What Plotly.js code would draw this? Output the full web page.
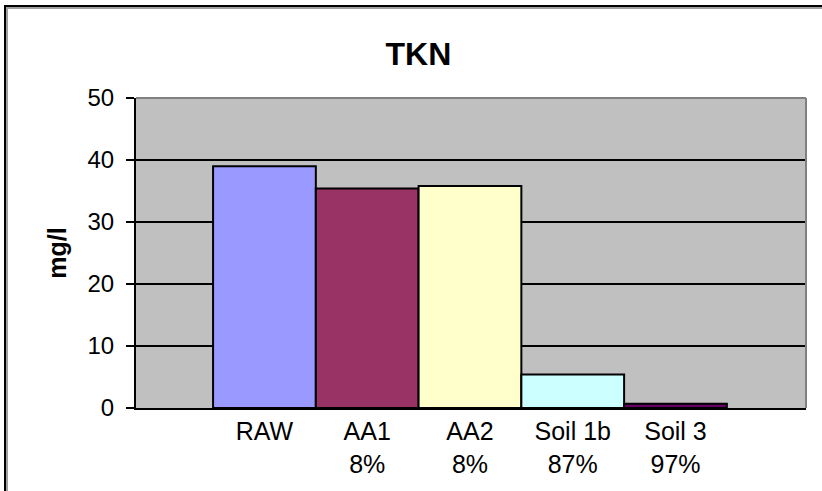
<!DOCTYPE html>
<html>
<head>
<meta charset="utf-8">
<script src="https://cdn.plot.ly/plotly-3.0.1.min.js"></script>
<style>
  html, body { margin: 0; padding: 0; background: #ffffff; overflow: hidden; }
  #stage { position: relative; width: 822px; height: 491px; overflow: hidden; }
  #frame {
    position: absolute; left: 4px; top: 5px; width: 1000px; height: 1000px;
    border-left: 2px solid #000; border-top: 2px solid #000;
  }
  #frameInner {
    position: absolute; left: 6px; top: 7px; width: 1000px; height: 1000px;
    border-left: 2px solid #a0a0a0; border-top: 2px solid #a0a0a0;
  }
  #chart { position: absolute; left: 0; top: 0; width: 822px; height: 491px; }
</style>
</head>
<body>
<div id="stage">
  <div id="frame"></div>
  <div id="frameInner"></div>
  <div id="chart"></div>
</div>
<script>
// TKN concentration per treatment stage (mg/l) and removal percentage
const stages = ["RAW", "AA1", "AA2", "Soil 1b", "Soil 3"];
const removal = ["", "8%", "8%", "87%", "97%"];
const tkn = [39.0, 35.4, 35.8, 5.4, 0.7];
const barColors = ["#9999FF", "#993366", "#FFFFCC", "#CCFFFF", "#660066"];

const tickText = stages.map((s, i) => removal[i] ? s + "<br>" + removal[i] : s);

const trace = {
  type: "bar",
  x: stages,
  y: tkn,
  marker: { color: barColors, line: { color: "#000000", width: 2 } },
  hoverinfo: "x+y"
};

const layout = {
  width: 822,
  height: 491,
  margin: { l: 136, r: 16, t: 98, b: 83 },
  paper_bgcolor: "rgba(0,0,0,0)",
  plot_bgcolor: "#C0C0C0",
  font: { family: "Arial, 'Liberation Sans', sans-serif", color: "#000000", size: 24 },
  showlegend: false,
  bargap: 0,
  title: {
    text: "<b>TKN</b>",
    font: { size: 32, color: "#000000" },
    xref: "container", x: 0.509, xanchor: "center",
    yref: "container", y: 1 - 54 / 491, yanchor: "middle"
  },
  xaxis: {
    type: "category",
    range: [-1.25, 5.27],
    tickmode: "array",
    tickvals: stages,
    ticktext: tickText,
    ticks: "",
    showline: true, linecolor: "#000000", linewidth: 2,
    showgrid: false,
    tickfont: { size: 25 },
    fixedrange: true
  },
  yaxis: {
    range: [0, 50],
    dtick: 10,
    ticks: "outside", ticklen: 8, tickwidth: 2, tickcolor: "#000000",
    ticklabelstandoff: 7,
    showline: true, linecolor: "#000000", linewidth: 2,
    showgrid: true, gridcolor: "#000000", gridwidth: 1.6,
    zeroline: false,
    tickfont: { size: 24 },
    title: { text: "<b>mg/l</b>", font: { size: 25 }, standoff: 14 },
    fixedrange: true
  },
  shapes: [
    { type: "line", xref: "paper", yref: "paper", x0: 0, x1: 1, y0: 1, y1: 1,
      line: { color: "#808080", width: 2 } },
    { type: "line", xref: "paper", yref: "paper", x0: 1, x1: 1, y0: 0, y1: 1,
      line: { color: "#808080", width: 2 } }
  ]
};

Plotly.newPlot("chart", [trace], layout, { displayModeBar: false, staticPlot: true });
</script>
</body>
</html>
